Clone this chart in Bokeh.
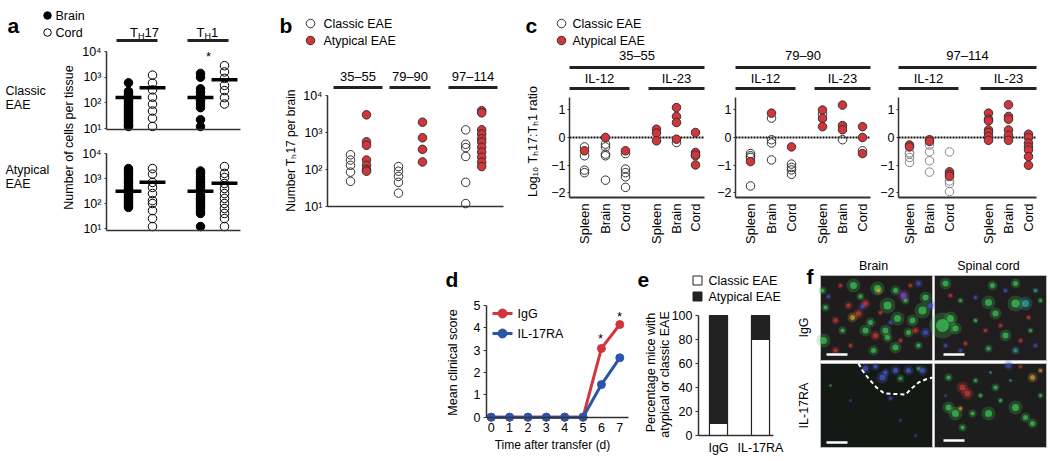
import math
from bokeh.plotting import figure
from bokeh.models import (Range1d, LogScale, LogAxis, LinearAxis, FixedTicker,
                          Label, ColumnDataSource, Spacer)
from bokeh.layouts import row, column
from bokeh.embed import file_html
from bokeh.resources import INLINE

FONT = "Liberation Sans"
RED = "#d2353b"
BLUE = "#2b55a8"
INK = "#222222"
AXC = "#333333"

# ---------------- data: panel a (cells per tissue) ----------------
a_pos = [1, 2, 4, 5]  # TH17 brain, TH17 cord, TH1 brain, TH1 cord
a_classic_th17_brain = [600, 280, 230, 190, 160, 140, 120, 100, 85, 70, 60, 50, 42, 35, 30, 25, 21, 18, 15, 13, 12]
a_classic_th17_cord = [1200, 590, 320, 165, 89, 48, 25, 12]
a_classic_th1_brain = [1400, 1000, 350, 260, 190, 140, 120, 90, 65, 22, 12]
a_classic_th1_cord = [2800, 1600, 900, 480, 300, 160, 90]
a_atyp_th17_brain = [2500, 2000, 1600, 1300, 1000, 800, 650, 500, 420, 350, 300, 250, 200, 170, 140, 120, 100, 85, 70]
a_atyp_th17_cord = [2500, 1500, 700, 440, 250, 130, 100, 52, 25, 12]
a_atyp_th1_brain = [2000, 1600, 1200, 900, 700, 550, 450, 350, 280, 220, 180, 150, 120, 100, 80, 65, 50, 40, 12]
a_atyp_th1_cord = [3000, 1600, 1100, 630, 400, 250, 160, 100, 63, 40, 25, 12]
a_classic_medians = [160, 390, 160, 800]
a_atyp_medians = [310, 700, 310, 650]
a_log_ticks = [10, 100, 1000, 10000]
a_log_labels = ["10¹", "10²", "10³", "10⁴"]

# ---------------- data: panel b (TH17 per brain) ----------------
b_peptides = ["35–55", "79–90", "97–114"]
b_pos_classic = [1.0, 4.0, 8.2]
b_pos_atyp = [2.0, 5.5, 9.2]
b_classic = [[250, 180, 130, 85, 48],
             [120, 90, 65, 45, 23],
             [1180, 480, 390, 225, 45, 12]]
b_atyp = [[3000, 560, 450, 180, 130, 100, 90],
          [1900, 720, 350, 160],
          [3900, 3400, 1180, 910, 680, 550, 400, 295, 215, 157, 120]]

# ---------------- data: panel c (log10 TH17:TH1 ratio) ----------------
c_peptides = ["35–55", "79–90", "97–114"]
c_tissues = ["Spleen", "Brain", "Cord", "Spleen", "Brain", "Cord"]
c_ticks = [[15, 36, 56, 87, 107, 126], [15, 36, 56, 87, 107, 127], [11, 31, 51, 90, 110, 130]]
c_classic_3555 = [[-0.34, -0.66, -1.18, -1.27], [-0.24, -0.34, -0.6, -0.66, -1.54],
                  [-0.58, -1.14, -1.27, -1.42, -1.8], [], [-0.18], [-0.66]]
c_atyp_3555 = [[-0.48], [0.0], [-0.48], [0.3, 0.16, -0.12], [1.08, 0.76, 0.54, -0.06], [0.18, -0.54, -0.63, -0.99]]
c_classic_7990 = [[-0.58, -0.66, -0.72, -1.75], [0.7, -0.08, -0.2, -0.81],
                  [-0.96, -1.08, -1.17, -1.33], [0.85], [-0.08], [-0.48]]
c_atyp_7990 = [[-0.87], [0.88], [-0.34], [0.99, 0.69, 0.39], [1.17, 0.43, 0.28], [0.39, 0.0, -0.58]]
c_classic_97114 = [[-0.55, -0.6, -0.72, -0.9], [-0.27, -0.52, -0.84, -1.25],
                   [-0.52, -1.57, -1.66, -1.95], [], [], []]
c_atyp_97114 = [[-0.27, -0.34], [-0.08, -0.14], [-1.24, -1.33, -1.4],
                [0.88, 0.66, 0.6, 0.27, 0.18, 0.04, -0.1], [1.18, 0.76, 0.66, 0.27, 0.08, -0.1],
                [0.12, 0.0, -0.2, -0.34, -0.45, -0.69, -1.0]]

# ---------------- data: panel d (clinical score) ----------------
d_days = [0, 1, 2, 3, 4, 5, 6, 7]
d_igg = [0, 0, 0, 0, 0, 0, 3.08, 4.15]
d_il17ra = [0, 0, 0, 0, 0, 0, 1.46, 2.66]
d_yticks = [0, 1, 2, 3, 4, 5]

# ---------------- data: panel e (percentage) ----------------
e_groups = ["IgG", "IL-17RA"]
e_classic = [10, 80]
e_atyp = [90, 20]
e_yticks = [0, 20, 40, 60, 80, 100]

# ---------------- panel f (micrograph tiles, reference-pixel layout) ----------------
f_tile_left = [820, 934, 820, 934]
f_tile_right = [932, 1046, 932, 1046]
f_tile_top = [275, 275, 363, 363]
f_tile_bottom = [360, 360, 447, 447]
f_tile_fill = ["#1f1c1d", "#1f1d1e", "#151915", "#1d1d1d"]
f_blob_x = [853, 877, 887, 895, 922, 925, 912, 897, 885, 865, 870, 823, 887, 895, 908, 873, 825, 822, 842, 905, 860, 918,
            858, 865, 835, 848, 875, 835, 840, 900, 880, 915, 850, 910,
            852, 878, 903, 925, 930, 862, 890, 828, 918,
            945, 942, 950, 955, 988, 995, 1015, 992, 1015, 1005, 988, 960, 975, 1030, 1040,
            1025, 1015, 1035, 1028, 965, 1000, 950, 1020, 985, 975, 1005, 960, 1035, 945,
            865, 882, 895, 908, 922, 875, 885, 900, 918, 830, 850, 900, 915, 890,
            1008, 1020, 962, 967, 948, 955, 988, 1015, 1025, 1032, 995, 948, 962, 1000, 980, 1040,
            972, 975, 960, 1032, 1040, 990, 1010, 945]
f_blob_y = [285, 288, 305, 290, 310, 297, 320, 318, 330, 330, 322, 340, 337, 347, 332, 350, 307, 290, 330, 300, 296, 345,
            313, 303, 320, 305, 335, 350, 285, 340, 312, 330, 345, 285,
            317, 290, 295, 332, 305, 306, 322, 296, 283,
            283, 325, 318, 328, 302, 313, 303, 285, 283, 335, 348, 300, 320, 330, 300,
            303, 350, 290, 317, 343, 325, 295, 340, 330, 297, 290, 350, 345, 345,
            368, 377, 370, 370, 370, 366, 372, 378, 368, 385, 400, 420, 435, 398,
            365, 366, 387, 393, 407, 413, 413, 407, 417, 423, 387, 377, 427, 400, 395, 395,
            413, 380, 408, 377, 370, 372, 380, 395]
f_blob_size = [7, 7, 8, 5, 8, 6, 6, 7, 6, 6, 5, 7, 5, 6, 5, 5, 4, 4, 4, 4, 4, 4,
               5, 5, 4, 4, 5, 4, 3, 3, 3, 4, 3, 3,
               5, 4, 6, 5, 5, 4, 3, 3, 4,
               6, 13, 7, 6, 7, 6, 8, 5, 5, 6, 4, 3, 3, 3, 3,
               7, 4, 3, 3, 3, 3, 3, 3, 3, 3, 3, 3, 3, 3,
               5, 6, 5, 5, 5, 4, 4, 4, 3, 2, 2, 2, 2, 3,
               5, 3, 6, 6, 6, 7, 7, 7, 5, 5, 4, 4, 4, 3, 3, 3,
               4, 3, 3, 5, 3, 2, 2, 2]
f_blob_color = (["#3cbf55"] * 22 + ["#c83a36"] * 12 + ["#d0a030"] * 2 + ["#8048c0"] + ["#4650c8"] * 6 +
                ["#3cbf55"] * 15 + ["#30a8a2"] * 3 + ["#c83a36"] * 6 + ["#4650c8"] * 6 +
                ["#4658c8"] * 6 + ["#3aaa52"] * 3 + ["#3a4ab0"] * 5 + ["#a03c30"] +
                ["#c83a36"] * 2 + ["#3cbf55"] * 14 +
                ["#d09a30"] * 3 + ["#30a8a2"] * 2 + ["#4650c8"] * 3)
f_bar_x0 = [826, 943, 826, 943]
f_bar_x1 = [847, 964, 847, 964]
f_bar_y = [354, 354, 442, 440]
f_dash_x = [858, 862, 868, 876, 884, 905, 911, 918, 925, 932]
f_dash_y = [363, 370, 378, 387, 393, 394, 388, 382, 379, 377]


# ---------------- helpers ----------------
class Map:
    """Linear map from reference-picture pixels to data units (y may be log10)."""
    def __init__(self, x_px, x_val, x_ppu, y_px, y_val, y_ppu, ylog=False):
        self.x_px, self.x_val, self.x_ppu = x_px, x_val, x_ppu
        self.y_px, self.y_val, self.y_ppu = y_px, y_val, y_ppu
        self.ylog = ylog

    def x(self, rx):
        return self.x_val + (rx - self.x_px) / self.x_ppu

    def y(self, ry):
        v = self.y_val + (self.y_px - ry) / self.y_ppu
        return 10 ** v if self.ylog else v

    def __call__(self, rx, ry):
        return self.x(rx), self.y(ry)


def make_fig(canvas, mp, axes=True):
    cx0, cx1, cy0, cy1 = canvas
    kw = {}
    if not axes:
        kw = dict(x_axis_location=None, y_axis_location=None)
    p = figure(width=cx1 - cx0, height=cy1 - cy0,
               x_range=Range1d(mp.x(cx0), mp.x(cx1)),
               y_range=Range1d(mp.y(cy1), mp.y(cy0)),
               y_axis_type="log" if mp.ylog else "linear", output_backend="svg",
               toolbar_location=None, tools="", min_border=0, **kw)
    p.xgrid.visible = False
    p.ygrid.visible = False
    p.outline_line_color = None
    if "frame_align" in p.properties():
        p.frame_align = False
    return p


def style_axis(ax, size="12px", tick_out=3, standoff=3, width=1.5, ticks=True):
    ax.axis_line_color = AXC
    ax.axis_line_width = width
    ax.major_tick_line_color = AXC if ticks else None
    ax.major_tick_line_width = 1
    ax.major_tick_out = tick_out
    ax.major_tick_in = 0
    ax.minor_tick_line_color = None
    ax.major_label_text_font = FONT
    ax.major_label_text_font_size = size
    ax.major_label_text_color = "black"
    ax.major_label_standoff = standoff
    ax.axis_label = None


def bare_axis(ax, width=1.5):
    ax.ticker = FixedTicker(ticks=[])
    ax.axis_line_color = AXC
    ax.axis_line_width = width
    ax.major_tick_line_color = None
    ax.minor_tick_line_color = None
    ax.major_label_text_font_size = "0px"
    ax.major_label_standoff = 0
    ax.axis_label = None


def lab(p, mp, rx, ry, text, size="12px", align="left", baseline="middle", bold=False,
        angle=0.0, color="black"):
    x, y = mp(rx, ry)
    p.add_layout(Label(x=x, y=y, text=text, text_font=FONT, text_font_size=size,
                       text_align=align, text_baseline=baseline,
                       text_font_style="bold" if bold else "normal",
                       angle=angle, text_color=color))


def hbar(p, mp, rx0, rx1, ry, w=3, color=INK):
    x0, y0 = mp(rx0, ry)
    x1, _ = mp(rx1, ry)
    p.segment(x0=[x0], x1=[x1], y0=[y0], y1=[y0], line_width=w, line_color=color, line_cap="butt")


def key_dot(p, mp, rx, ry, fill, line, size=8.5, marker="circle"):
    x, y = mp(rx, ry)
    p.scatter([x], [y], size=size, marker=marker, fill_color=fill, line_color=line, line_width=1)


def col_points(p, xpos, vals, fill, line, size, y_range_name="default"):
    src = ColumnDataSource(dict(x=[xpos] * len(vals), y=vals))
    p.scatter("x", "y", source=src, size=size, marker="circle", fill_color=fill,
              line_color=line, line_width=1, y_range_name=y_range_name)


# ================= panel a =================
mA = Map(128, 1, 24, 51, 4, 25.67, ylog=True)      # classic (top) plot
mAb = Map(128, 1, 24, 153, 4, 25.0, ylog=True)     # atypical (bottom) plot
pA = make_fig((0, 243, 0, 250), mA)
pA.extra_y_ranges = {"bot": Range1d(mAb.y(250), mAb.y(0))}
pA.extra_y_scales = {"bot": LogScale()}
pow_over = dict(zip(a_log_ticks, a_log_labels))
ay = pA.yaxis[0]
style_axis(ay, "12.5px", tick_out=2, standoff=3)
ay.ticker = FixedTicker(ticks=a_log_ticks)
ay.major_label_overrides = pow_over
ay.fixed_location = mA.x(106)
ay.bounds = (mA.y(129), 1e4)
ay2 = LogAxis(y_range_name="bot", ticker=FixedTicker(ticks=a_log_ticks))
style_axis(ay2, "12.5px", tick_out=2, standoff=3)
ay2.major_label_overrides = pow_over
ay2.fixed_location = mA.x(106)
ay2.bounds = (mAb.y(230), 1e4)
pA.add_layout(ay2, "left")
ax1 = pA.xaxis[0]
bare_axis(ax1)
ax1.fixed_location = mA.y(129)
ax1.bounds = (mA.x(106), mA.x(240))
ax2 = LinearAxis(y_range_name="bot")
bare_axis(ax2)
ax2.fixed_location = mAb.y(230)
ax2.bounds = (mA.x(106), mA.x(240))
pA.add_layout(ax2, "below")

a_classic = [a_classic_th17_brain, a_classic_th17_cord, a_classic_th1_brain, a_classic_th1_cord]
a_atyp = [a_atyp_th17_brain, a_atyp_th17_cord, a_atyp_th1_brain, a_atyp_th1_cord]
for i, xp in enumerate(a_pos):
    filled = (i % 2 == 0)
    col_points(pA, xp, a_classic[i], "black" if filled else None, "black", 8.5)
    col_points(pA, xp, a_atyp[i], "black" if filled else None, "black", 8.5, "bot")
pA.segment(x0=[x - 0.54 for x in a_pos], x1=[x + 0.54 for x in a_pos],
           y0=a_classic_medians, y1=a_classic_medians, line_color="black", line_width=3.5)
pA.segment(x0=[x - 0.54 for x in a_pos], x1=[x + 0.54 for x in a_pos],
           y0=a_atyp_medians, y1=a_atyp_medians, line_color="black", line_width=3.5,
           y_range_name="bot")

lab(pA, mA, 7, 25, "a", "21px", baseline="alphabetic", bold=True)
key_dot(pA, mA, 47, 15, "black", "black", 7.5)
lab(pA, mA, 55, 15, "Brain", "12.5px")
key_dot(pA, mA, 47, 32, None, "black", 7.5)
lab(pA, mA, 55, 32, "Cord", "12.5px")
lab(pA, mA, 129.5, 32, "T", "13px", baseline="alphabetic")
lab(pA, mA, 137.5, 35, "H", "9px", baseline="alphabetic")
lab(pA, mA, 144, 32, "17", "13px", baseline="alphabetic")
lab(pA, mA, 196, 32, "T", "13px", baseline="alphabetic")
lab(pA, mA, 204, 35, "H", "9px", baseline="alphabetic")
lab(pA, mA, 210.5, 32, "1", "13px", baseline="alphabetic")
hbar(pA, mA, 116, 157, 40)
hbar(pA, mA, 187, 228, 40)
lab(pA, mA, 208, 56, "*", "13px", "center", "middle")
lab(pA, mA, 5, 90, "Classic", "12.5px")
lab(pA, mA, 5, 104, "EAE", "12.5px")
lab(pA, mA, 5, 169, "Atypical", "12.5px")
lab(pA, mA, 5, 183, "EAE", "12.5px")
lab(pA, mA, 68, 137, "Number of cells per tissue", "12.5px", "center", "middle", angle=math.pi / 2)

# ================= panel b =================
mB = Map(350, 1, 16, 95, 4, 37.0, ylog=True)
pB = make_fig((243, 515, 0, 250), mB)
by = pB.yaxis[0]
style_axis(by, "12.5px", tick_out=2, standoff=3)
by.ticker = FixedTicker(ticks=a_log_ticks)
by.major_label_overrides = pow_over
by.fixed_location = mB.x(327)
by.bounds = (10, 1e4)
bx = pB.xaxis[0]
bare_axis(bx)
bx.fixed_location = 10
bx.bounds = (mB.x(327), mB.x(503))
for g in range(3):
    col_points(pB, b_pos_classic[g], b_classic[g], None, "#333333", 8.5)
    col_points(pB, b_pos_atyp[g], b_atyp[g], RED, "#333333", 8.5)

lab(pB, mB, 279, 25, "b", "21px", baseline="alphabetic", bold=True)
key_dot(pB, mB, 310, 23, None, "#333333")
lab(pB, mB, 323, 23, "Classic EAE", "12.5px")
key_dot(pB, mB, 310, 40, RED, "#333333")
lab(pB, mB, 323, 40, "Atypical EAE", "12.5px")
b_hdr = [(333, 382), (389, 430), (448, 497)]
for (h0, h1), t in zip(b_hdr, b_peptides):
    lab(pB, mB, (h0 + h1) / 2, 76, t, "13px", "center", "middle")
    hbar(pB, mB, h0, h1, 87)
lab(pB, mB, 290, 150, "Number Tₕ17 per brain", "12px", "center", "middle", angle=math.pi / 2)

# ================= panel c =================
c_axis_left = [569, 735, 898]
c_axis_right = [704, 870, 1036]
c_canvases = [(515, 712, 0, 250), (712, 877, 0, 250), (877, 1048, 0, 250)]
c_classic = [c_classic_3555, c_classic_7990, c_classic_97114]
c_atyp = [c_atyp_3555, c_atyp_7990, c_atyp_97114]
c_open_line = ["#333333", "#333333", "#888888"]
pCs = []
for k in range(3):
    x0, x1 = c_axis_left[k], c_axis_right[k]
    m = Map(x0, 0, 1, 137, 0, 27.7)
    p = make_fig(c_canvases[k], m)
    yax = p.yaxis[0]
    style_axis(yax, "12.5px", tick_out=2, standoff=2)
    yax.ticker = FixedTicker(ticks=[-2, -1, 0, 1])
    yax.major_label_overrides = {-2: "−2", -1: "−1", 0: "0", 1: "1"}
    yax.fixed_location = 0
    yax.bounds = (m.y(197), m.y(97))
    xax = p.xaxis[0]
    style_axis(xax, "13px", tick_out=0, standoff=6, width=2, ticks=False)
    xax.ticker = FixedTicker(ticks=c_ticks[k])
    xax.major_label_overrides = dict(zip(c_ticks[k], c_tissues))
    xax.major_label_orientation = math.pi / 2
    xax.fixed_location = m.y(197)
    xax.bounds = (0, x1 - x0)
    p.segment(x0=[0], x1=[x1 - x0], y0=[0], y1=[0], line_color="#111111",
              line_width=2.2, line_dash="2 1")
    for j in range(6):
        col_points(p, c_ticks[k][j], c_classic[k][j], None, c_open_line[k], 8.5)
        col_points(p, c_ticks[k][j], c_atyp[k][j], RED, "#333333", 8.5)
    lab(p, m, (x0 + x1) / 2, 55, c_peptides[k], "13px", "center", "middle")
    hbar(p, m, x0, x1, 67)
    hbar(p, m, x0, x0 + 60, 88)
    lab(p, m, x0 + 30, 78, "IL-12", "13px", "center", "middle")
    hbar(p, m, x1 - 56, x1, 88)
    lab(p, m, x1 - 28, 78, "IL-23", "13px", "center", "middle")
    if k == 0:
        lab(p, m, 525, 25, "c", "21px", baseline="alphabetic", bold=True)
        key_dot(p, m, 561, 23, None, "#333333")
        lab(p, m, 572, 23, "Classic EAE", "12.5px")
        key_dot(p, m, 561, 40, RED, "#333333")
        lab(p, m, 572, 40, "Atypical EAE", "12.5px")
        lab(p, m, 532, 141, "Log₁₀ Tₕ17:Tₕ1 ratio", "12.5px", "center", "middle", angle=math.pi / 2)
    pCs.append(p)

# ================= panel d =================
mD = Map(490.7, 0, 18.37, 416.7, 0, 22.33)
pD = make_fig((430, 632, 250, 459), mD)
dy = pD.yaxis[0]
style_axis(dy, "12.5px", tick_out=3, standoff=3)
dy.ticker = FixedTicker(ticks=d_yticks)
dy.fixed_location = mD.x(486)
dy.bounds = (0, 5)
dx = pD.xaxis[0]
style_axis(dx, "12.5px", tick_out=0, standoff=6, ticks=False)
dx.ticker = FixedTicker(ticks=d_days)
dx.fixed_location = 0
dx.bounds = (mD.x(486), mD.x(628))
pD.line(d_days, d_igg, line_color=RED, line_width=3)
pD.scatter(d_days, d_igg, size=8, marker="circle", fill_color=RED, line_color=RED)
pD.line(d_days, d_il17ra, line_color=BLUE, line_width=3)
pD.scatter(d_days, d_il17ra, size=8, marker="circle", fill_color=BLUE, line_color=BLUE)
for ry, col, txt in [(313, RED, "IgG"), (333, BLUE, "IL-17RA")]:
    lx0, ly = mD(492, ry)
    lx1 = mD.x(512)
    pD.line([lx0, lx1], [ly, ly], line_color=col, line_width=3)
    key_dot(pD, mD, 502, ry, col, col, 9)
    lab(pD, mD, 517, ry, txt, "12.5px")
lab(pD, mD, 600, 338, "*", "13px", "center", "middle")
lab(pD, mD, 619, 316, "*", "13px", "center", "middle")
lab(pD, mD, 445, 279, "d", "21px", baseline="alphabetic", bold=True)
lab(pD, mD, 452, 362, "Mean clinical score", "12.5px", "center", "middle", angle=math.pi / 2)
lab(pD, mD, 552, 444, "Time after transfer (d)", "12px", "center", "middle")

# ================= panel e =================
e_x = [1, 2]
e_total = [c + a for c, a in zip(e_classic, e_atyp)]
mE = Map(718, 1, 42, 435, 0, 1.2)
pE = make_fig((632, 790, 250, 459), mE)
ey = pE.yaxis[0]
style_axis(ey, "12.5px", tick_out=3, standoff=3)
ey.ticker = FixedTicker(ticks=e_yticks)
ey.fixed_location = mE.x(698)
ey.bounds = (0, 100)
ex = pE.xaxis[0]
style_axis(ex, "12.5px", tick_out=0, standoff=5, ticks=False)
ex.ticker = FixedTicker(ticks=e_x)
ex.major_label_overrides = dict(zip(e_x, e_groups))
ex.fixed_location = 0
ex.bounds = (mE.x(698), mE.x(773))
esrc = ColumnDataSource(dict(x=e_x, classic=e_classic, total=e_total))
pE.vbar(x="x", width=0.43, bottom=0, top="classic", source=esrc,
        fill_color="white", line_color=INK, line_width=1.2)
pE.vbar(x="x", width=0.43, bottom="classic", top="total", source=esrc,
        fill_color=INK, line_color=INK, line_width=1.2)
lab(pE, mE, 637, 279, "e", "21px", baseline="alphabetic", bold=True)
key_dot(pE, mE, 697, 280, "white", INK, 9, "square")
lab(pE, mE, 708, 280, "Classic EAE", "12.5px")
key_dot(pE, mE, 697, 296, INK, INK, 9, "square")
lab(pE, mE, 708, 296, "Atypical EAE", "12.5px")
lab(pE, mE, 650, 372, "Percentage mice with", "12.5px", "center", "middle", angle=math.pi / 2)
lab(pE, mE, 664, 374, "atypical or classic EAE", "12.5px", "center", "middle", angle=math.pi / 2)

# ================= panel f =================
mF = Map(0, 0, 1, 0, 0, -1)
pF = make_fig((790, 1048, 250, 459), mF, axes=False)
pF.quad(left=f_tile_left, right=f_tile_right, top=f_tile_top, bottom=f_tile_bottom,
        fill_color=f_tile_fill, line_color="#bbbbbb", line_width=1)
pF.scatter(f_blob_x, f_blob_y, size=[s * 2.0 for s in f_blob_size], color=f_blob_color,
           alpha=0.25, marker="circle", line_color=None)
pF.scatter(f_blob_x, f_blob_y, size=f_blob_size, color=f_blob_color, alpha=0.75,
           marker="circle", line_color=None)
pF.segment(x0=f_bar_x0, x1=f_bar_x1, y0=f_bar_y, y1=f_bar_y, line_color="white", line_width=2.5)
pF.line(f_dash_x, f_dash_y, line_color="white", line_width=2, line_dash="4 3")
lab(pF, mF, 806, 276, "f", "21px", baseline="alphabetic", bold=True)
lab(pF, mF, 873, 265, "Brain", "12.5px", "center", "middle")
lab(pF, mF, 988, 265, "Spinal cord", "12.5px", "center", "middle")
lab(pF, mF, 803, 327, "IgG", "12.5px", "center", "middle", angle=math.pi / 2)
lab(pF, mF, 803, 405, "IL-17RA", "12.5px", "center", "middle", angle=math.pi / 2)

layout = column(row(pA, pB, *pCs),
                row(Spacer(width=430, height=209), pD, pE, pF))
open("out.html", "w").write(file_html(layout, INLINE))
